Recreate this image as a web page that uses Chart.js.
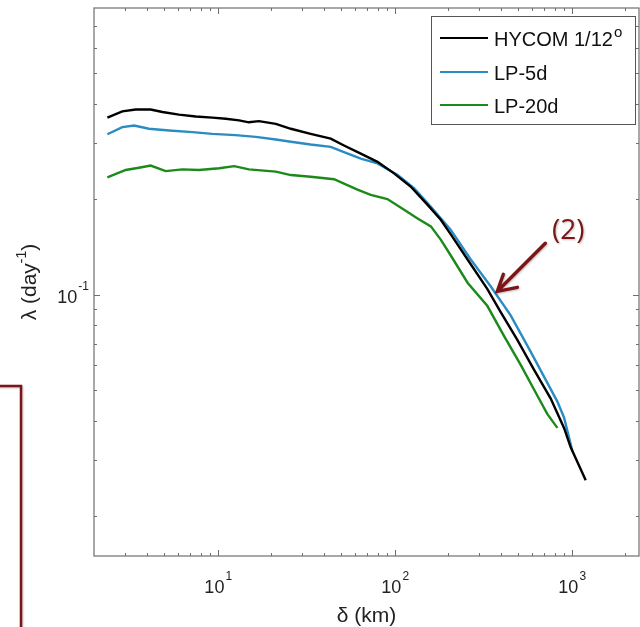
<!DOCTYPE html>
<html>
<head>
<meta charset="utf-8">
<script src="https://cdn.jsdelivr.net/npm/chart.js@4.4.0/dist/chart.umd.min.js"></script>
<style>
    body { margin: 0; background: #fff; }
    #wrap { width: 640px; height: 627px; }
</style>
</head>
<body>
<div id="wrap"><canvas id="lambdaChart" width="640" height="627"></canvas></div>
<script>
// 데이터
const hycomX = [2.38, 2.89, 3.44, 4.18, 4.87, 6.04, 7.51, 9.33, 11.1, 13.2, 15.0, 17.1, 21.3, 25.9, 33.5, 43.5, 51.7, 64.3, 79.9, 99.1, 123, 153, 182, 207, 258, 334, 397, 493, 612, 761, 905, 987, 1200];
const hycomY = [0.361, 0.378, 0.383, 0.383, 0.376, 0.369, 0.364, 0.361, 0.358, 0.354, 0.349, 0.352, 0.345, 0.333, 0.321, 0.310, 0.295, 0.278, 0.262, 0.241, 0.219, 0.192, 0.172, 0.155, 0.129, 0.104, 0.088, 0.072, 0.058, 0.047, 0.038, 0.033, 0.026];

const lp5X = [2.38, 2.89, 3.37, 4.09, 5.31, 7.20, 9.33, 12.6, 16.4, 21.3, 25.9, 33.5, 43.5, 51.7, 64.3, 79.9, 104, 129, 160, 207, 269, 349, 452, 587, 830, 905, 1010];
const lp5Y = [0.320, 0.337, 0.341, 0.333, 0.329, 0.325, 0.321, 0.318, 0.314, 0.308, 0.303, 0.297, 0.292, 0.281, 0.268, 0.259, 0.238, 0.216, 0.189, 0.160, 0.129, 0.106, 0.086, 0.066, 0.046, 0.041, 0.032];

const lp20X = [2.38, 3.02, 3.59, 4.18, 5.08, 6.32, 7.84, 10.2, 12.4, 15.0, 21.3, 25.9, 33.5, 45.4, 61.6, 73.2, 90.9, 113, 134, 160, 182, 207, 258, 334, 415, 515, 640, 729, 830];
const lp20Y = [0.234, 0.247, 0.251, 0.255, 0.245, 0.248, 0.247, 0.250, 0.254, 0.248, 0.244, 0.238, 0.235, 0.231, 0.214, 0.206, 0.200, 0.185, 0.174, 0.164, 0.149, 0.133, 0.109, 0.092, 0.074, 0.060, 0.048, 0.042, 0.038];

const seriesNames = ['HYCOM 1/12', 'LP-5d', 'LP-20d'];
const seriesColors = ['#000000', '#2b8cc4', '#1b8a1b'];

// 눈금
const xMajorTicks = [10, 100, 1000];
const xTickExps = ['1', '2', '3'];
const xMinorTicks = [3, 4, 5, 6, 7, 8, 9, 20, 30, 40, 50, 60, 70, 80, 90, 200, 300, 400, 500, 600, 700, 800, 900, 2000];
const yMajorTicks = [0.1];
const yTickExps = ['-1'];
const yMinorTicks = [0.02, 0.03, 0.04, 0.05, 0.06, 0.07, 0.08, 0.09, 0.2, 0.3, 0.4, 0.5, 0.6, 0.7];

// 주석 (2) 화살표 끝 위치
const noteAt = { x: 380, y: 0.1024 };

const FONT = '"Liberation Sans", Arial, sans-serif';
const AXIS_COLOR = '#6e6e6e';

function toPoints(xs, ys) {
    return xs.map((x, i) => ({ x: x, y: ys[i] }));
}

// 10^n 형태 라벨
function drawPow(ctx, base, exp, x, y, size, align) {
    ctx.font = size + 'px ' + FONT;
    const wb = ctx.measureText(base).width;
    ctx.font = Math.round(size * 0.66) + 'px ' + FONT;
    const we = ctx.measureText(exp).width;
    let x0 = x;
    if (align === 'center') x0 = x - (wb + we) / 2;
    if (align === 'right') x0 = x - (wb + we);
    ctx.textAlign = 'left';
    ctx.textBaseline = 'alphabetic';
    ctx.font = size + 'px ' + FONT;
    ctx.fillText(base, x0, y);
    ctx.font = Math.round(size * 0.66) + 'px ' + FONT;
    ctx.fillText(exp, x0 + wb + 1, y - size * 0.7);
}

const axesPlugin = {
    id: 'matlabAxes',
    afterDraw(chart) {
        const ctx = chart.ctx;
        const area = chart.chartArea;
        const xs = chart.scales.x;
        const ys = chart.scales.y;

        ctx.save();
        // 테두리
        ctx.strokeStyle = AXIS_COLOR;
        ctx.lineWidth = 1.2;
        ctx.strokeRect(area.left, area.top, area.right - area.left, area.bottom - area.top);

        // 안쪽 눈금
        const tickX = (v, len) => {
            const p = Math.round(xs.getPixelForValue(v)) + 0.5;
            ctx.beginPath();
            ctx.moveTo(p, area.bottom); ctx.lineTo(p, area.bottom - len);
            ctx.moveTo(p, area.top); ctx.lineTo(p, area.top + len);
            ctx.stroke();
        };
        const tickY = (v, len) => {
            const p = Math.round(ys.getPixelForValue(v)) + 0.5;
            ctx.beginPath();
            ctx.moveTo(area.left, p); ctx.lineTo(area.left + len, p);
            ctx.moveTo(area.right, p); ctx.lineTo(area.right - len, p);
            ctx.stroke();
        };
        ctx.lineWidth = 1;
        xMinorTicks.forEach(v => tickX(v, 3));
        xMajorTicks.forEach(v => tickX(v, 6));
        yMinorTicks.forEach(v => tickY(v, 3));
        yMajorTicks.forEach(v => tickY(v, 6));

        // 눈금 라벨
        ctx.fillStyle = '#222';
        xMajorTicks.forEach((v, i) => {
            drawPow(ctx, '10', xTickExps[i], xs.getPixelForValue(v), 593, 18, 'center');
        });
        yMajorTicks.forEach((v, i) => {
            drawPow(ctx, '10', yTickExps[i], area.left - 6, ys.getPixelForValue(v) + 8, 18, 'right');
        });

        // 축 제목
        ctx.font = '21px ' + FONT;
        ctx.textAlign = 'center';
        ctx.textBaseline = 'alphabetic';
        ctx.fillText('\u03b4 (km)', (area.left + area.right) / 2, 622);

        ctx.save();
        ctx.translate(36, (area.top + area.bottom) / 2);
        ctx.rotate(-Math.PI / 2);
        ctx.font = '21px ' + FONT;
        const p1 = '\u03bb (day', p2 = '-1', p3 = ')';
        const w1 = ctx.measureText(p1).width;
        const w3 = ctx.measureText(p3).width;
        ctx.font = '14px ' + FONT;
        const w2 = ctx.measureText(p2).width;
        let sx = -(w1 + w2 + w3) / 2;
        ctx.textAlign = 'left';
        ctx.font = '21px ' + FONT;
        ctx.fillText(p1, sx, 0);
        ctx.font = '14px ' + FONT;
        ctx.fillText(p2, sx + w1, -10);
        ctx.font = '21px ' + FONT;
        ctx.fillText(p3, sx + w1 + w2, 0);
        ctx.restore();

        // 범례
        ctx.fillStyle = '#fff';
        ctx.fillRect(431.5, 16.5, 204, 108);
        ctx.strokeStyle = '#555';
        ctx.lineWidth = 1;
        ctx.strokeRect(431.5, 16.5, 204, 108);
        const rows = [38, 72, 105];
        chart.data.datasets.forEach((ds, i) => {
            ctx.strokeStyle = ds.borderColor;
            ctx.lineWidth = 2;
            ctx.beginPath();
            ctx.moveTo(440, rows[i]); ctx.lineTo(488, rows[i]);
            ctx.stroke();
            ctx.fillStyle = '#111';
            ctx.font = '20px ' + FONT;
            ctx.textAlign = 'left';
            ctx.textBaseline = 'alphabetic';
            ctx.fillText(ds.label, 494, rows[i] + 8);
            if (i === 0) {
                const w = ctx.measureText(ds.label).width;
                ctx.font = '15px ' + FONT;
                ctx.fillText('o', 494 + w + 1, rows[i] - 1);
            }
        });

        // 주석 (2) 화살표
        const tx = xs.getPixelForValue(noteAt.x);
        const ty = ys.getPixelForValue(noteAt.y);
        const red = '#7d1517';
        ctx.strokeStyle = red;
        ctx.lineWidth = 3.4;
        ctx.lineCap = 'round';
        ctx.shadowColor = 'rgba(0,0,0,0.25)';
        ctx.shadowBlur = 2;
        ctx.shadowOffsetX = 1;
        ctx.shadowOffsetY = 1;
        ctx.beginPath();
        ctx.moveTo(tx + 48, ty - 48);
        ctx.lineTo(tx + 1, ty - 1);
        ctx.moveTo(tx + 6, ty - 17);
        ctx.lineTo(tx, ty);
        ctx.lineTo(tx + 20, ty - 4);
        ctx.stroke();
        ctx.fillStyle = red;
        ctx.font = '28px "Open Sans", Lato, sans-serif';
        ctx.textAlign = 'center';
        ctx.textBaseline = 'middle';
        ctx.fillText('(2)', tx + 71, ty - 60);

        // 왼쪽 아래 빨간 상자 (잘린 부분)
        ctx.lineWidth = 2.5;
        ctx.lineCap = 'butt';
        ctx.strokeRect(-6, 386, 27, 260);
        ctx.restore();
    }
};

const ctx = document.getElementById('lambdaChart').getContext('2d');
const lambdaChart = new Chart(ctx, {
    type: 'scatter',
    data: {
        datasets: [
            { label: seriesNames[0], data: toPoints(hycomX, hycomY), borderColor: seriesColors[0] },
            { label: seriesNames[1], data: toPoints(lp5X, lp5Y), borderColor: seriesColors[1] },
            { label: seriesNames[2], data: toPoints(lp20X, lp20Y), borderColor: seriesColors[2] }
        ]
    },
    options: {
        responsive: false,
        animation: false,
        showLine: true,
        layout: { padding: { left: 94, top: 8, right: 1, bottom: 71 } },
        elements: {
            point: { radius: 0 },
            line: { borderWidth: 2.4, tension: 0 }
        },
        plugins: {
            legend: { display: false },
            tooltip: { enabled: false }
        },
        scales: {
            x: { type: 'logarithmic', min: 2, max: 2400, display: false },
            y: { type: 'logarithmic', min: 0.015, max: 0.8, display: false }
        }
    },
    plugins: [axesPlugin]
});
</script>
</body>
</html>
